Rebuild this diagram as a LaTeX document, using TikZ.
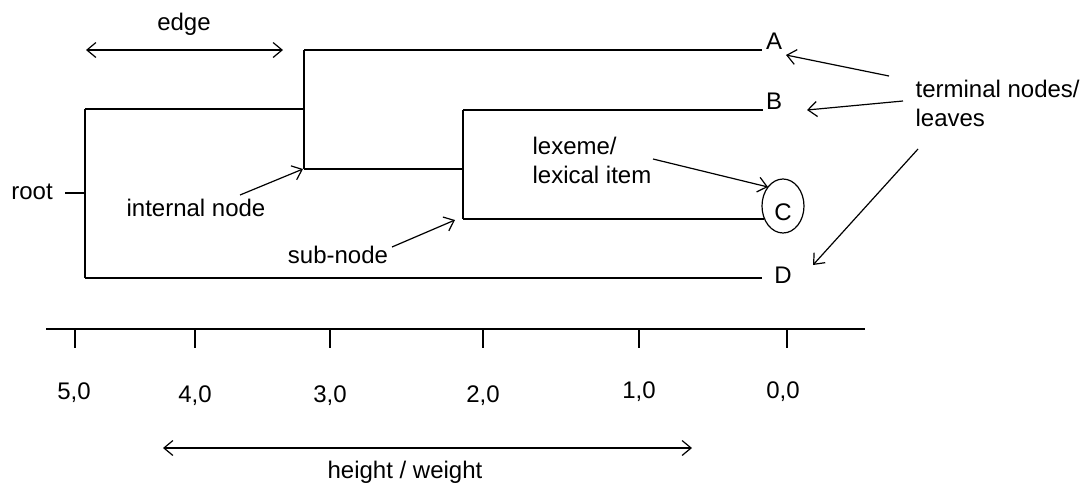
\documentclass[tikz,border=0pt]{standalone}
\usepackage{fontspec}
\setmainfont{Liberation Sans}
\usetikzlibrary{arrows.meta}
\begin{document}
\begin{tikzpicture}[x=1pt,y=-1pt,
  line width=1.2pt,
  lbl/.style={inner sep=0pt,anchor=base,font=\fontsize{24}{28.5}\selectfont},
  lblw/.style={inner sep=0pt,anchor=base west,align=left,font=\fontsize{24}{28.5}\selectfont},
  arr/.style={-{Straight Barb[length=9pt,width=15pt,line width=1.2pt]}},
  darr/.style={{Straight Barb[length=9pt,width=15pt,line width=1.2pt]}-{Straight Barb[length=9pt,width=15pt,line width=1.2pt]}},
  tree/.style={line cap=rect}]
\useasboundingbox (0,0) rectangle (1090,483);
% tree coordinates
\coordinate (rt) at (85,193);
\coordinate (rtick) at (65,193);
\coordinate (r1) at (85,109);
\coordinate (r2) at (85,278);
\coordinate (n1a) at (304,109);
\coordinate (n1t) at (304,50);
\coordinate (n1b) at (304,169);
\coordinate (n2a) at (463,169);
\coordinate (n2t) at (463,110);
\coordinate (n2b) at (463,219);
\coordinate (lA) at (762,50);
\coordinate (lB) at (763,110);
\coordinate (lC) at (764,219);
\coordinate (lD) at (762,278);
% tree
\draw (rtick) -- (rt);
\draw (r1) -- (r2);
\draw (r1) -- (n1a);
\draw (n1t) -- (n1b);
\draw (n1t) -- (lA);
\draw (n1b) -- (n2a);
\draw (n2t) -- (n2b);
\draw (n2t) -- (lB);
\draw (n2b) -- (lC);
\draw (r2) -- (lD);
% leaves
\node[lbl] (A) at (774,49) {A};
\node[lbl] (B) at (774,109) {B};
\node[lbl] (C) at (783,220) {C};
\node[lbl] (D) at (783,283) {D};
\draw (783,206) ellipse (21 and 27);
% labels
\node[lbl] (root) at (32,199) {root};
\node[lbl] (edge) at (184,30) {edge};
\node[lbl] (internal) at (196,216) {internal node};
\node[lbl] (sub) at (338,263) {sub-node};
\node[lblw] (lex) at (532,154) {lexeme/};
\node[lblw] (lex2) at (532,183) {lexical item};
\node[lblw] (term) at (915,97) {terminal nodes/};
\node[lblw] (term2) at (915,126) {leaves};
% edge arrow
\coordinate (e1) at (86,50);
\coordinate (e2) at (283,50);
\draw[darr] (e1) -- (e2);
% annotation arrows
\coordinate (iS) at (240,195); \coordinate (iE) at (303,169);
\draw[arr] (iS) -- (iE);
\coordinate (sS) at (392,247); \coordinate (sE) at (455,220);
\draw[arr] (sS) -- (sE);
\coordinate (xS) at (653,159); \coordinate (xE) at (768,187);
\draw[arr] (xS) -- (xE);
\coordinate (tA) at (889,76); \coordinate (tAE) at (786,55);
\draw[arr] (tA) -- (tAE);
\coordinate (tB) at (903,101); \coordinate (tBE) at (807,110);
\draw[arr] (tB) -- (tBE);
\coordinate (tD) at (918,149); \coordinate (tDE) at (813,265);
\draw[arr] (tD) -- (tDE);
% axis
\coordinate (ax1) at (46,329);
\coordinate (ax2) at (865,329);
\draw (ax1) -- (ax2);
\foreach \x in {75,195,330,483,639,787} \draw (\x,329) -- (\x,348);
\node[lbl] (t5) at (74,399) {5,0};
\node[lbl] (t4) at (195,402) {4,0};
\node[lbl] (t3) at (330,402) {3,0};
\node[lbl] (t2) at (483,402) {2,0};
\node[lbl] (t1) at (639,398) {1,0};
\node[lbl] (t0) at (783,398) {0,0};
\coordinate (h1) at (163,448);
\coordinate (h2) at (692,448);
\draw[darr] (h1) -- (h2);
\node[lbl] (hw) at (405,478) {height / weight};
\end{tikzpicture}
\end{document}
